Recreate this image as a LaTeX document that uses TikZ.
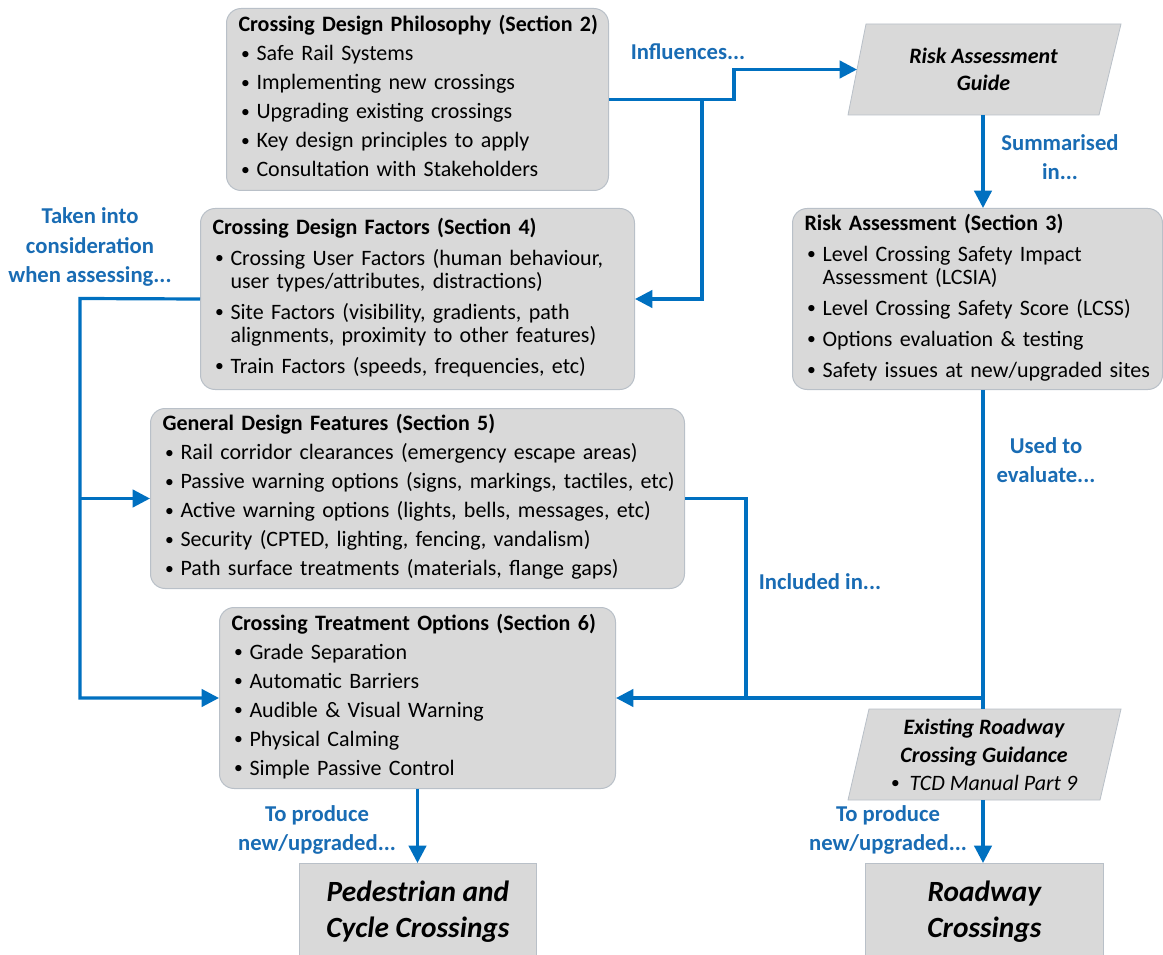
\documentclass[tikz,border=0pt]{standalone}
\usepackage{fontspec}
\setmainfont{Carlito}
\usetikzlibrary{arrows.meta,calc}
\definecolor{lineblue}{RGB}{0,112,192}
\definecolor{txtblue}{RGB}{25,108,180}
\definecolor{boxgray}{RGB}{217,217,217}
\definecolor{boxedge}{RGB}{185,192,200}
\newcommand{\smbul}{\raisebox{0.12ex}{\scalebox{0.8}{\textbullet}}}
\newcommand{\bul}{\makebox[13.5pt][l]{\hspace{2pt}\smbul}}
\newcommand{\ind}{\hspace{13.5pt}}
\tikzset{
  box/.style={draw=boxedge, line width=0.75pt, fill=boxgray, rounded corners=11pt,
    anchor=north west, align=left, inner xsep=9pt, inner ysep=0pt,
    font=\fontsize{16.5}{17.25}\selectfont},
  bigbox/.style={draw=boxedge, line width=0.6pt, fill=boxgray, anchor=north west,
    align=center, inner sep=0pt, font=\fontsize{22}{27}\selectfont\bfseries\itshape},
  para/.style={fill=boxgray, draw=boxedge, line width=0.6pt},
  arr/.style={draw=lineblue, line width=2.4pt, -{Triangle[length=13pt,width=13pt]}},
  conn/.style={draw=lineblue, line width=2.4pt},
  lbl/.style={text=txtblue, font=\fontsize{17}{22}\selectfont\bfseries, align=center, inner sep=1pt}
}
\begin{document}
\begin{tikzpicture}[x=0.75pt,y=-0.75pt]
\useasboundingbox (0,0) rectangle (1163,955);
\fill[white] (0,0) rectangle (1163,955);

% boxes
\node[box, minimum width=286.5pt, minimum height=136.5pt, text width=268.5pt] (b1) at (226,8) {%
\begin{tabular}{@{}l@{}}
\bfseries Crossing Design Philosophy (Section 2)\\[4.5pt]
\bul Safe Rail Systems\\[4.5pt]
\bul Implementing new crossings\\[4.5pt]
\bul Upgrading existing crossings\\[4.5pt]
\bul Key design principles to apply\\[4.5pt]
\bul Consultation with Stakeholders
\end{tabular}};

\node[box, minimum width=325.5pt, minimum height=135.75pt, text width=307.5pt] (b2) at (200,208) {%
\begin{tabular}{@{}l@{}}
\bfseries Crossing Design Factors (Section 4)\\[6pt]
\bul Crossing User Factors (human behaviour,\\
\ind user types/attributes, distractions)\\[6pt]
\bul Site Factors (visibility, gradients, path\\
\ind alignments, proximity to other features)\\[6pt]
\bul Train Factors (speeds, frequencies, etc)
\end{tabular}};

\node[box, minimum width=400.5pt, minimum height=135pt, text width=382.5pt] (b3) at (150,408) {%
\begin{tabular}{@{}l@{}}
\bfseries General Design Features (Section 5)\\[4.5pt]
\bul Rail corridor clearances (emergency escape areas)\\[4.5pt]
\bul Passive warning options (signs, markings, tactiles, etc)\\[4.5pt]
\bul Active warning options (lights, bells, messages, etc)\\[4.5pt]
\bul Security (CPTED, lighting, fencing, vandalism)\\[4.5pt]
\bul Path surface treatments (materials, flange gaps)
\end{tabular}};

\node[box, minimum width=297pt, minimum height=135.75pt, text width=279pt] (b4) at (219,607) {%
\begin{tabular}{@{}l@{}}
\bfseries Crossing Treatment Options (Section 6)\\[4.5pt]
\bul Grade Separation\\[4.5pt]
\bul Automatic Barriers\\[4.5pt]
\bul Audible \& Visual Warning\\[4.5pt]
\bul Physical Calming\\[4.5pt]
\bul Simple Passive Control
\end{tabular}};

\node[box, minimum width=277.5pt, minimum height=135.75pt, text width=259.5pt] (risk) at (792,208) {%
\begin{tabular}{@{}l@{}}
\bfseries Risk Assessment (Section 3)\\[6pt]
\bul Level Crossing Safety Impact\\
\ind Assessment (LCSIA)\\[6pt]
\bul Level Crossing Safety Score (LCSS)\\[6pt]
\bul Options evaluation \& testing\\[6pt]
\bul Safety issues at new/upgraded sites
\end{tabular}};

% parallelograms
\path[para] (866,24) -- (1121,24) -- (1099,115) -- (848,115) -- cycle;
\node[align=center, font=\fontsize{16.5}{20.25}\selectfont\bfseries\itshape] (guide) at (983.5,69.5) {Risk Assessment\\Guide};
\coordinate (gin) at (857,69.5);
\coordinate (gbot) at (983,115);

\path[para] (869,709) -- (1121,709) -- (1100,800) -- (848,800) -- cycle;
\node[align=center, font=\fontsize{16.5}{21}\selectfont] (exist) at (984,754.5) {{\bfseries\itshape Existing Roadway}\\{\bfseries\itshape Crossing Guidance}\\{\itshape\smbul\ \ TCD Manual Part 9}};
\coordinate (etop) at (983,709);
\coordinate (ebot) at (983,800);

% final boxes
\node[bigbox, minimum width=177.75pt, minimum height=72pt] (ped) at (299,863) {Pedestrian and\\Cycle Crossings};
\node[bigbox, minimum width=178.5pt, minimum height=72pt] (road) at (865,863) {Roadway\\Crossings};

% connectors
\coordinate (j1) at (702,99);
\coordinate (lx) at (80,298.5);
\coordinate (j3) at (746,697.5);
\draw[arr] (b1.east) -- ++(125,0) |- (gin);
\draw[arr] (j1) |- (b2.east);
\draw[arr] (gbot) -- (gbot |- risk.north);
\draw[arr] (gbot |- risk.south) |- (b4.east);
\draw[conn] (gbot |- b4.east) -- (etop);
\draw[conn] (b3.east) -| (j3);
\draw[arr] (b2.west) -- (lx) |- (b4.west);
\draw[arr] (lx |- b3.west) -- (b3.west);
\draw[arr] (b4.south) -- (b4.south |- ped.north);
\draw[arr] (ebot) -- (ebot |- road.north);

% labels
\node[lbl] (l1) at (688,52) {Influences...};
\node[lbl] (l2) at (1060,157) {Summarised\\in...};
\node[lbl] (l3) at (90,247) {Taken into\\consideration\\when assessing...};
\node[lbl] (l4) at (1046,460) {Used to\\evaluate...};
\node[lbl] (l5) at (820,582) {Included in...};
\node[lbl] (l6) at (317,830) {To produce\\new/upgraded...};
\node[lbl] (l7) at (888,830) {To produce\\new/upgraded...};
\end{tikzpicture}
\end{document}
